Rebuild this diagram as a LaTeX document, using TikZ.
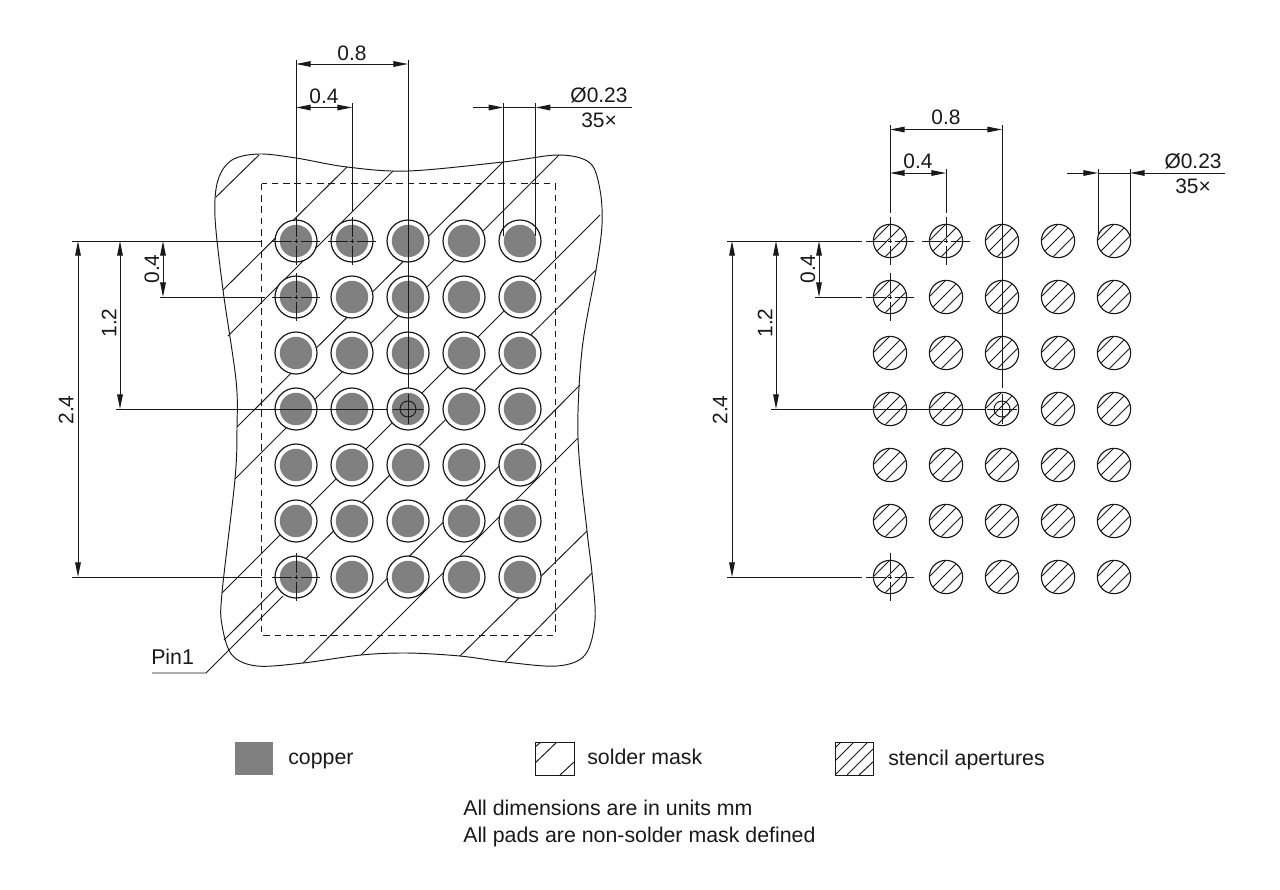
\documentclass[tikz,border=0pt]{standalone}
\usepackage{fontspec}
\setmainfont{Liberation Sans}
\usetikzlibrary{arrows.meta}
\definecolor{copperc}{RGB}{128,128,128}
\definecolor{inkc}{RGB}{25,25,25}
\tikzset{
  ln/.style={draw=inkc,line width=0.72pt},
  thin cross/.style={draw=inkc,line width=0.55pt},
  dim/.style={ln,{Triangle[length=11pt,width=4.2pt]}-{Triangle[length=11pt,width=4.2pt]}},
  arr/.style={ln,-{Triangle[length=11pt,width=4.2pt]}},
  padouter/.style={circle,draw=inkc,line width=0.9pt,fill=white,minimum size=31.5pt,inner sep=0pt},
  sten/.style={circle,draw=inkc,line width=0.85pt,minimum size=25pt,inner sep=0pt},
  dimtxt/.style={font=\fontsize{15.7pt}{17pt}\selectfont,inner sep=0pt,text=inkc},
  legtxt/.style={font=\fontsize{16pt}{18pt}\selectfont,inner sep=0pt,anchor=base west,text=inkc},
}
\newcommand{\crosshair}[2]{%
  \draw[thin cross] (#1-24,#2)--(#1-4.5,#2) (#1-2,#2)--(#1+2,#2) (#1+4.5,#2)--(#1+24,#2)
            (#1,#2-24)--(#1,#2-4.5) (#1,#2-2)--(#1,#2+2) (#1,#2+4.5)--(#1,#2+24);}
\begin{document}
\begin{tikzpicture}[x=0.75pt,y=-0.75pt]
\useasboundingbox (0,0) rectangle (1280,889);
% solder mask hatch
\draw[ln] (259,155)--(216,197) (347,167)--(223,290) (393,171)--(228,336)
  (503,162)--(237,427) (559,155)--(235,479) (600,215)--(222,593)
  (596,270)--(224,640) (580,385)--(303,663) (578,438)--(361,655)
  (587,531)--(460,656) (592,573)--(505,662);
\draw[ln] plot[smooth cycle,tension=0.55] coordinates {
  (215,217)(218,180)(232,160)(259,154)(296,158)(347,167)(408,171)(503,162)(559,155)
  (590,163)(600,190)(602,225)(596,270)(582,350)(578,438)(587,531)(592,573)(595,620)
  (585,655)(557,666)(505,662)(460,656)(407,653)(361,655)(303,663)(257,666)(232,655)
  (222,625)(222,593)(235,479)(237,427)(236,380)(223,290)};
\draw[ln,dash pattern=on 5pt off 3.5pt] (261.5,183.5) rectangle (555,635);
% left pads
\foreach \c/\x in {1/296,2/352,3/408,4/464,5/520}
  \foreach \r/\y in {1/241,2/297,3/353,4/409,5/465,6/521,7/577}{
    \node[padouter] (L\c\r) at (\x,\y) {};
    \fill[copperc] (L\c\r.center) circle (16.2);
  }
% right pads
\foreach \c/\x in {1/890,2/946,3/1002,4/1058,5/1114}
  \foreach \r/\y in {1/241,2/297,3/353,4/409,5/465,6/521,7/577}{
    \node[sten] (R\c\r) at (\x,\y) {};
    \pgfmathsetmacro{\ph}{mod(\x+\y,14)}
    \begin{scope}
      \clip (R\c\r.center) circle (16.4);
      \foreach \k in {-3,...,3}{
        \pgfmathsetmacro{\s}{\ph+\k*14}
        \draw[draw=inkc,line width=0.65pt] (\x+\s/2-30,\y+\s/2+30)--(\x+\s/2+30,\y+\s/2-30);
      }
    \end{scope}
  }
% crosshairs
\crosshair{296}{241}\crosshair{352}{241}\crosshair{296}{297}\crosshair{296}{577}
\crosshair{890}{241}\crosshair{946}{241}\crosshair{890}{297}\crosshair{890}{577}
% reference circles
\node[circle,draw=inkc,line width=0.72pt,minimum size=12pt,inner sep=0pt] (Lref) at (L34) {};
\node[circle,draw=inkc,line width=0.72pt,minimum size=12pt,inner sep=0pt] (Rref) at (R34) {};
\draw[thin cross] (393,409)--(423,409) (408,394)--(408,424);
\draw[thin cross] (987,409)--(1017,409) (1002,394)--(1002,424);
% Pin1
\node[legtxt] (pin) at (151,664) {Pin1};
\coordinate (pina) at (152,673);
\coordinate (pinb) at (206,673);
\coordinate (pinc) at (283,596);
\draw[ln] (pina)--(pinb)--(pinc);
% left dims top
\coordinate (a1) at (296,64); \coordinate (a2) at (408,64);
\coordinate (b1) at (296,107.5); \coordinate (b2) at (352,107.5);
\draw[ln] (296,60)--(296,212) (408,60)--(408,388) (352,103)--(352,212)
  (503.3,103)--(503.3,236) (535.7,103)--(535.7,236);
\draw[dim] (a1)--(a2);
\draw[dim] (b1)--(b2);
\node[dimtxt] (t1) at (352,53) {0.8};
\node[dimtxt] (t2) at (324,96) {0.4};
\coordinate (c1) at (473,107.5); \coordinate (c2) at (503.3,107.5);
\coordinate (c3) at (632,107.5); \coordinate (c4) at (535.7,107.5);
\draw[ln] (c2)--(c4);
\draw[arr] (c1)--(c2);
\draw[arr] (c3)--(c4);
\node[dimtxt] (t3) at (599,95) {Ø0.23};
\node[dimtxt] (t4) at (599,120) {35×};
% left dims side
\draw[ln] (72,241)--(262,241) (72,577)--(262,577) (116,409)--(388,409) (160,297)--(265,297);
\coordinate (d1) at (78,241); \coordinate (d2) at (78,577);
\coordinate (e1) at (120,241); \coordinate (e2) at (120,409);
\coordinate (f1) at (163,241); \coordinate (f2) at (163,297);
\draw[dim] (d1)--(d2);
\draw[dim] (e1)--(e2);
\draw[dim] (f1)--(f2);
\node[dimtxt,rotate=90] (t5) at (66,410) {2.4};
\node[dimtxt,rotate=90] (t6) at (109,323) {1.2};
\node[dimtxt,rotate=90] (t7) at (152,269) {0.4};
% right dims top
\draw[ln] (890,125)--(890,213) (1002,125)--(1002,388) (946,169)--(946,213)
  (1098,169)--(1098,236) (1130,169)--(1130,236);
\coordinate (g1) at (890,129.5); \coordinate (g2) at (1002,129.5);
\coordinate (h1) at (890,173); \coordinate (h2) at (946,173);
\draw[dim] (g1)--(g2);
\draw[dim] (h1)--(h2);
\node[dimtxt] (t8) at (946,117) {0.8};
\node[dimtxt] (t9) at (918,161) {0.4};
\coordinate (i1) at (1067,173); \coordinate (i2) at (1098,173);
\coordinate (i3) at (1225,173); \coordinate (i4) at (1130,173);
\draw[ln] (i2)--(i4);
\draw[arr] (i1)--(i2);
\draw[arr] (i3)--(i4);
\node[dimtxt] (t10) at (1193,161) {Ø0.23};
\node[dimtxt] (t11) at (1193,186) {35×};
% right dims side
\draw[ln] (727,241)--(862,241) (727,577)--(862,577) (771,409)--(985,409) (815,297)--(862,297);
\coordinate (j1) at (732,241); \coordinate (j2) at (732,577);
\coordinate (k1) at (776,241); \coordinate (k2) at (776,409);
\coordinate (l1) at (819,241); \coordinate (l2) at (819,297);
\draw[dim] (j1)--(j2);
\draw[dim] (k1)--(k2);
\draw[dim] (l1)--(l2);
\node[dimtxt,rotate=90] (t12) at (720,410) {2.4};
\node[dimtxt,rotate=90] (t13) at (765,323) {1.2};
\node[dimtxt,rotate=90] (t14) at (808,269) {0.4};
% legend
\fill[copperc] (235,742) rectangle (273,775);
\node[legtxt] (l-a) at (288,764) {copper};
\begin{scope}
  \clip (535,742) rectangle (574,775);
  \draw[ln] (535,747)--(541,742) (535,763)--(557,742) (560,775)--(574,762);
\end{scope}
\draw[ln] (535,742) rectangle (574,775);
\node[legtxt] (l-b) at (587,764) {solder mask};
\begin{scope}
  \clip (835,742) rectangle (873.5,775);
  \draw[ln] (835,748)--(841,742) (835,761)--(854,742) (835,775)--(868,742)
    (847,775)--(874,748) (859,775)--(874,761);
\end{scope}
\draw[ln] (835,742) rectangle (873.5,775);
\node[legtxt] (l-c) at (888,765) {stencil apertures};
\node[legtxt] (n1) at (463,815) {All dimensions are in units mm};
\node[legtxt] (n2) at (463,842) {All pads are non-solder mask defined};
\end{tikzpicture}
\end{document}
